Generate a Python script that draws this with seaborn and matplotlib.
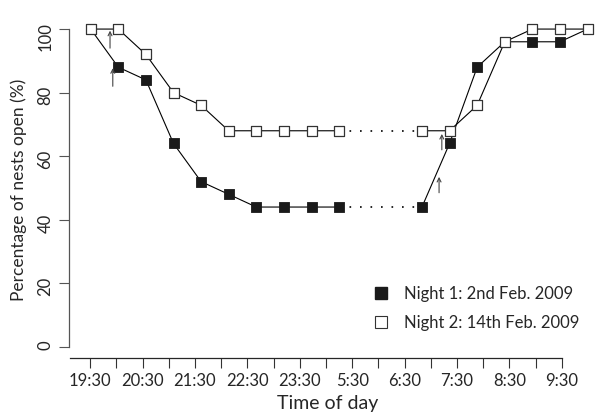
import numpy as np
import pandas as pd
import matplotlib
matplotlib.use("Agg")
import matplotlib.pyplot as plt
import seaborn as sns
from matplotlib.lines import Line2D

# half-hour sample slots; slots 10-11 (middle of the night) were not sampled
slots = list(range(10)) + list(range(12, 19))
night1 = [100, 88, 84, 64, 52, 48, 44, 44, 44, 44, 44, 64, 88, 96, 96, 96, 100]
night2 = [100, 100, 92, 80, 76, 68, 68, 68, 68, 68, 68, 68, 76, 96, 100, 100, 100]
time_labels = ["19:30", "20:30", "21:30", "22:30", "23:30",
               "5:30", "6:30", "7:30", "8:30", "9:30"]
legend_labels = ["Night 1: 2nd Feb. 2009", "Night 2: 14th Feb. 2009"]
# small arrows (slot, tail, head) marking sunset / sunrise
arrows = [(0.70, 94, 99.5), (0.80, 82, 87.7), (12.72, 62, 67), (12.62, 48.5, 53.5)]

rows = []
for name, vals in [("n1", night1), ("n2", night2)]:
    for s, v in zip(slots, vals):
        rows.append({"night": name, "slot": s, "pct": v, "part": "eve" if s < 10 else "morn"})
df = pd.DataFrame(rows)

sns.set_style("ticks")
plt.rcParams["font.family"] = ["Lato", "DejaVu Sans"]
plt.rcParams["font.size"] = 12

fig = plt.figure(figsize=(6.1, 4.15), dpi=100)
ax = fig.add_axes([70 / 610, 57 / 415, 530 / 610, 348 / 415])

# solid segments
sns.lineplot(data=df, x="slot", y="pct", hue="night", units="part", estimator=None,
             palette=["black", "black"], lw=0.8, legend=False, sort=False, ax=ax, zorder=2)
# dotted bridge over the unsampled part of the night
for name in ["n1", "n2"]:
    d = df[df.night == name].set_index("slot")["pct"]
    ax.plot([9, 12], [d[9], d[12]], color="black", lw=1.2,
            linestyle=(0, (1, 5.3)), zorder=1)

sns.scatterplot(data=df[df.night == "n1"], x="slot", y="pct", marker="s", s=58,
                color="#1a1a1a", edgecolor="#1a1a1a", linewidth=0.6, ax=ax, zorder=3)
sns.scatterplot(data=df[df.night == "n2"], x="slot", y="pct", marker="s", s=52,
                color="white", edgecolor="#333333", linewidth=0.9, ax=ax, zorder=4)

for x, y0, y1 in arrows:
    ax.annotate("", xy=(x, y1), xytext=(x, y0),
                arrowprops=dict(arrowstyle="->", color="#444444", lw=0.8,
                                shrinkA=0, shrinkB=0, mutation_scale=7))

ax.set_xlim(-0.75, 18.45)
ax.set_ylim(-3.5, 106)

tick_pos = np.linspace(-0.02, 17.07, 19)
ax.set_xticks(tick_pos)
ax.set_xticklabels([time_labels[i // 2] if i % 2 == 0 else "" for i in range(19)])
ax.set_yticks([0, 20, 40, 60, 80, 100])
ax.tick_params(axis="y", labelrotation=90, length=7, width=0.8, color="#555555", pad=4)
ax.tick_params(axis="x", length=7, width=0.8, color="#333333", pad=4)
for lab in ax.get_yticklabels():
    lab.set_va("center")

sns.despine(ax=ax, top=True, right=True)
ax.spines["left"].set_bounds(0, 100)
ax.spines["left"].set_color("#555555")
ax.spines["left"].set_linewidth(0.9)
ax.spines["bottom"].set_bounds(-0.75, 17.07)
ax.spines["bottom"].set_linewidth(0.9)
ax.spines["left"].set_position(("outward", 1))

ax.set_xlabel("Time of day", fontsize=14)
ax.set_ylabel("Percentage of nests open (%)", fontsize=12.5)
ax.xaxis.set_label_coords(0.487, -0.105)
ax.yaxis.set_label_coords(-0.082, 0.483)

handles = [
    Line2D([], [], marker="s", linestyle="none", markersize=8.5,
           markerfacecolor="#1a1a1a", markeredgecolor="#1a1a1a"),
    Line2D([], [], marker="s", linestyle="none", markersize=8,
           markerfacecolor="white", markeredgecolor="#333333", markeredgewidth=0.8),
]
ax.legend(handles, legend_labels, loc="lower right", bbox_to_anchor=(0.99, 0.035),
          frameon=False, handletextpad=0.9, labelspacing=0.75, fontsize=12,
          handlelength=1.0)

fig.savefig("out.png", dpi=100)
